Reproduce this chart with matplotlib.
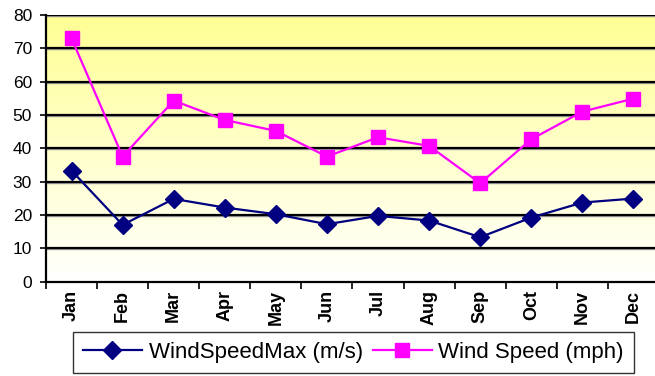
import matplotlib.pyplot as plt
import numpy as np
from matplotlib import font_manager

months = ["Jan", "Feb", "Mar", "Apr", "May", "Jun",
          "Jul", "Aug", "Sep", "Oct", "Nov", "Dec"]
max_ms = [33.3, 17.0, 24.8, 22.2, 20.2, 17.2, 19.7, 18.3, 13.3, 19.2, 23.7, 24.9]
speed_mph = [73.0, 37.5, 54.3, 48.5, 45.2, 37.5, 43.3, 40.7, 29.5, 42.7, 51.0, 54.9]
yticks = [0, 10, 20, 30, 40, 50, 60, 70, 80]

names = {f.name for f in font_manager.fontManager.ttflist}
narrow = "Liberation Sans Narrow" if "Liberation Sans Narrow" in names else "Liberation Sans"
plt.rcParams["font.family"] = ["Liberation Sans", "DejaVu Sans"]

fig = plt.figure(figsize=(6.55, 3.76), dpi=100)
ax = fig.add_axes([0.0702, 0.2513, 0.9359, 0.7088])

x = np.arange(len(months))
ax.set_xlim(-0.5, 11.5)
ax.set_ylim(0, 80)

# yellow-to-white fill behind the plot
grad = np.linspace(1, 0, 256).reshape(-1, 1)
top = np.array([1.0, 1.0, 0.58])
img = np.ones((256, 1, 3)) * (1 - grad[..., None]) + top * grad[..., None]
ax.imshow(img, extent=[-0.5, 11.5, 0, 80], aspect="auto", origin="upper", zorder=0)

# gridlines with a faint shadow
for v in yticks[1:]:
    ax.axhline(v - 0.35, color="#9a9a9a", lw=1.0, zorder=1)
    ax.axhline(v, color="black", lw=1.6, zorder=1.5)

ax.plot(x, max_ms, color="#000080", lw=1.6, marker="D", ms=9.5,
        label="WindSpeedMax (m/s)", zorder=3)
ax.plot(x, speed_mph, color="#FF00FF", lw=1.6, marker="s", ms=9.5,
        label="Wind Speed (mph)", zorder=3)

for s in ["top", "right"]:
    ax.spines[s].set_visible(False)
ax.spines["left"].set_linewidth(1.6)
ax.spines["bottom"].set_linewidth(1.6)

ax.set_yticks(yticks)
ax.tick_params(axis="y", length=4, width=1.2, pad=6, labelsize=12.5)

ax.set_xticks(x)
ax.set_xticklabels(months, rotation=90, fontfamily=narrow, fontweight="bold",
                   fontsize=13, va="top")
ax.set_xticks(np.arange(-0.5, 12, 1), minor=True)
ax.tick_params(axis="x", which="major", length=0, pad=6)
ax.tick_params(axis="x", which="minor", length=5, width=1.2)

leg = fig.legend(loc="upper left", bbox_to_anchor=(73 / 655, 1 - 332 / 376),
                 ncol=2, fontsize=16, frameon=True, fancybox=False,
                 edgecolor="black", handlelength=2.65, handletextpad=0.3,
                 columnspacing=0.45, borderpad=0.45, borderaxespad=0)
leg.get_frame().set_linewidth(1.0)

fig.savefig("out.png", dpi=100)
